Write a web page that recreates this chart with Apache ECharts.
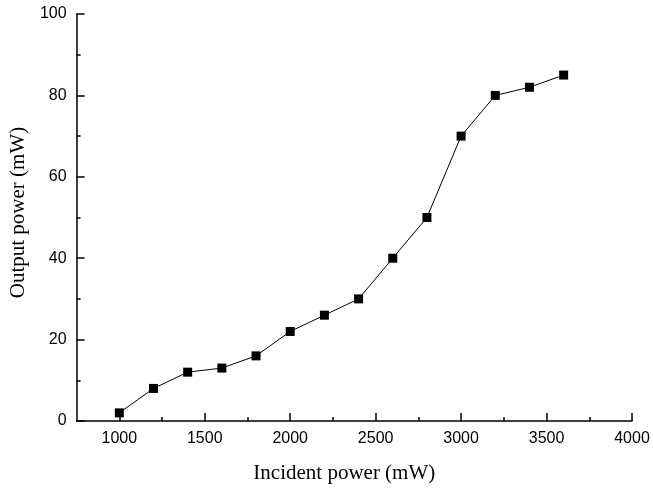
<!DOCTYPE html>
<html>
<head>
<meta charset="utf-8">
<script src="https://cdn.jsdelivr.net/npm/echarts@6/dist/echarts.min.js"></script>
<style>html,body{margin:0;padding:0;background:#fff}#c{width:653px;height:489px}</style>
</head>
<body>
<div id="c"></div>
<script>
const incidentPower = [1000, 1200, 1400, 1600, 1800, 2000, 2200, 2400, 2600, 2800, 3000, 3200, 3400, 3600];
const outputPower = [2, 8, 12, 13, 16, 22, 26, 30, 40, 50, 70, 80, 82, 85];
const xMajorTicks = [1000, 1500, 2000, 2500, 3000, 3500, 4000];
const xMinorTicks = [1250, 1750, 2250, 2750, 3250, 3750];
const xTitle = 'Incident power (mW)';
const yTitle = 'Output power (mW)';

const chart = echarts.init(document.getElementById('c'), null, {renderer: 'canvas'});
const labelStyle = {color: '#000', fontFamily: 'Liberation Sans, Arial, sans-serif', fontSize: 16};
const titleStyle = {color: '#000', fontFamily: 'Liberation Serif, Times New Roman, serif', fontSize: 21};
const plain = v => String(v);
chart.setOption({
  animation: false,
  backgroundColor: '#fff',
  grid: {left: 76, right: 21, top: 14, bottom: 66.5, containLabel: false},
  xAxis: [{
    type: 'value', min: 750, max: 4000, position: 'bottom',
    name: xTitle, nameLocation: 'middle', nameGap: 42,
    nameTextStyle: Object.assign({padding: [0, 20, 0, 0]}, titleStyle),
    axisLine: {show: true, lineStyle: {color: '#000', width: 1.5}},
    axisTick: {show: true, inside: true, length: 8, customValues: xMajorTicks, lineStyle: {color: '#000', width: 1.5}},
    axisLabel: Object.assign({show: true, margin: 10, customValues: xMajorTicks, formatter: plain}, labelStyle),
    splitLine: {show: false}
  }, {
    type: 'value', min: 750, max: 4000, position: 'bottom',
    axisLine: {show: false},
    axisTick: {show: true, inside: true, length: 4, customValues: xMinorTicks, lineStyle: {color: '#000', width: 1.5}},
    axisLabel: {show: false},
    splitLine: {show: false}
  }],
  yAxis: {
    type: 'value', min: 0, max: 100, interval: 20,
    name: yTitle, nameLocation: 'middle', nameGap: 47,
    nameTextStyle: Object.assign({padding: [0, 0, 0, 10]}, titleStyle),
    axisLine: {show: true, lineStyle: {color: '#000', width: 1.5}},
    axisTick: {show: true, inside: true, length: 8, lineStyle: {color: '#000', width: 1.5}},
    minorTick: {show: true, splitNumber: 2, length: 4, lineStyle: {color: '#000', width: 1.5}},
    axisLabel: Object.assign({margin: 10, formatter: plain}, labelStyle),
    splitLine: {show: false}
  },
  series: [{
    type: 'line',
    xAxisIndex: 0,
    data: incidentPower.map((x, i) => [x, outputPower[i]]),
    symbol: 'rect', symbolSize: 9,
    lineStyle: {color: '#000', width: 1},
    itemStyle: {color: '#000'}
  }]
});
</script>
</body>
</html>
